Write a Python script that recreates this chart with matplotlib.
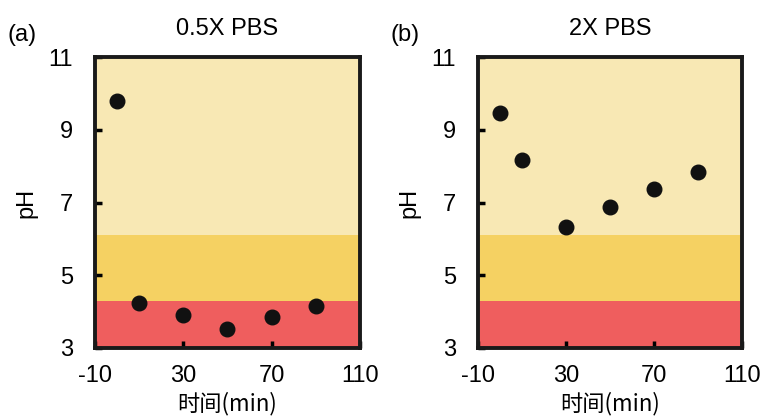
import matplotlib
matplotlib.use("Agg")
import matplotlib.pyplot as plt

plt.rcParams['font.family'] = ['Liberation Sans', 'Noto Sans CJK SC', 'DejaVu Sans']
plt.rcParams['axes.unicode_minus'] = False

# sampling times (min) and measured pH
time_min = [0, 10, 30, 50, 70, 90]
ph_half_pbs = [9.8, 4.25, 3.9, 3.52, 3.85, 4.15]
ph_double_pbs = [9.47, 8.17, 6.33, 6.87, 7.37, 7.83]

panel_titles = ['0.5X PBS', '2X PBS']
panel_tags = ['(a)', '(b)']

# pH bands: acidic / weakly acidic / neutral-basic
band_edges = [3, 4.3, 6.1, 11]
band_colors = ['#EF5E5E', '#F5D162', '#F8E8B4']

fig = plt.figure(figsize=(7.64, 4.18), dpi=100)
ax_a = fig.add_axes([0.1243, 0.1675, 0.3469, 0.696])
ax_b = fig.add_axes([0.6257, 0.1675, 0.3455, 0.696])

for ax, ph, title, tag in zip([ax_a, ax_b], [ph_half_pbs, ph_double_pbs],
                              panel_titles, panel_tags):
    for lo, hi, c in zip(band_edges[:-1], band_edges[1:], band_colors):
        ax.axhspan(lo, hi, color=c, lw=0, zorder=0)
    ax.scatter(time_min, ph, s=110, color='#111111', zorder=3)
    ax.set_xlim(-10, 110)
    ax.set_ylim(3, 11)
    ax.set_xticks([-10, 30, 70, 110])
    ax.set_yticks([3, 5, 7, 9, 11])
    ax.tick_params(direction='in', length=5, width=2.5, labelsize=17)
    ax.tick_params(axis='x', pad=12)
    ax.tick_params(axis='y', pad=16)
    for sp in ax.spines.values():
        sp.set_linewidth(2.8)
        sp.set_color('#1a1a1a')
    ax.set_title(title, fontsize=17, pad=16)
    ax.set_xlabel('时间(min)', fontsize=16, labelpad=4,
                  family=['Noto Sans CJK SC', 'DejaVu Sans'])
    ax.set_ylabel('pH', fontsize=17, labelpad=8)
    pos = ax.get_position()
    fig.text(pos.x0 - 0.114, 0.89, tag, fontsize=17, va='bottom')

fig.savefig('out.png', dpi=100)
